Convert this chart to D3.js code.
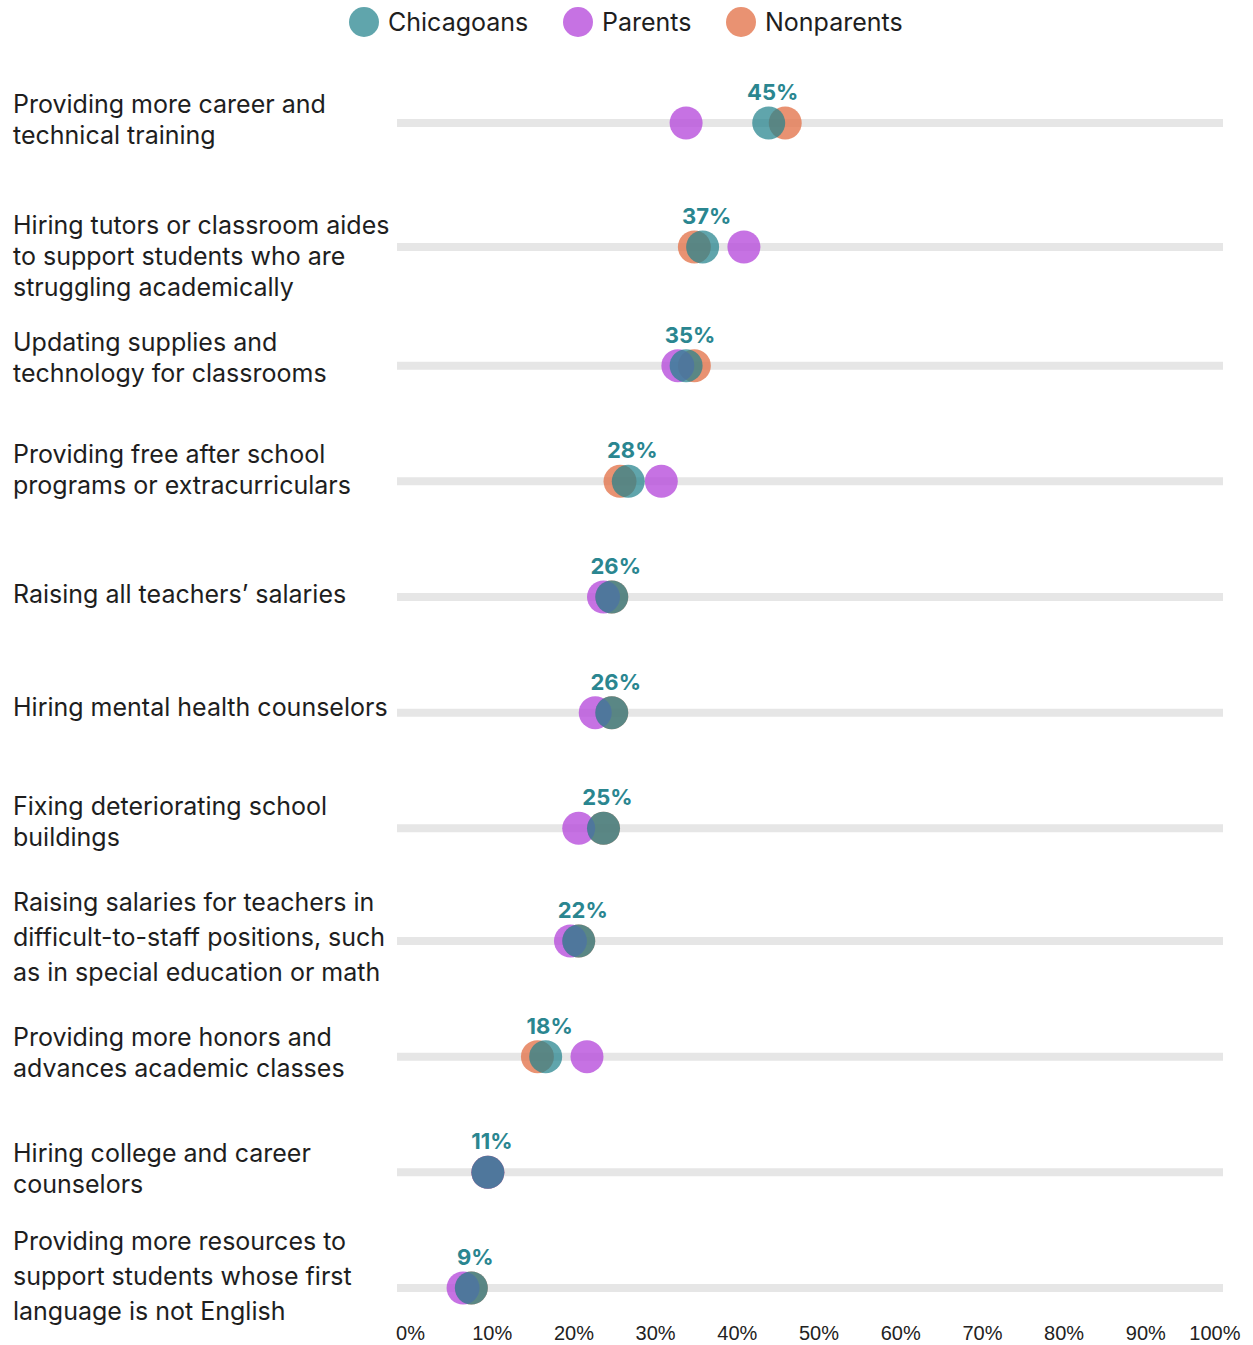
<!DOCTYPE html>
<html>
<head>
<meta charset="utf-8">
<script src="https://cdn.jsdelivr.net/npm/d3@7"></script>
<style>
  html, body { margin: 0; padding: 0; background: #ffffff; }
  svg { display: block; }
</style>
</head>
<body>
<svg id="chart" width="1253" height="1345"></svg>
<script>
// Survey items (each entry is one label, split into its display lines)
const categories = [
  ["Providing more career and", "technical training"],
  ["Hiring tutors or classroom aides", "to support students who are", "struggling academically"],
  ["Updating supplies and", "technology for classrooms"],
  ["Providing free after school", "programs or extracurriculars"],
  ["Raising all teachers\u2019 salaries"],
  ["Hiring mental health counselors"],
  ["Fixing deteriorating school", "buildings"],
  ["Raising salaries for teachers in", "difficult-to-staff positions, such", "as in special education or math"],
  ["Providing more honors and", "advances academic classes"],
  ["Hiring college and career", "counselors"],
  ["Providing more resources to", "support students whose first", "language is not English"]
];

// Share of each group choosing the item (%)
const chicagoans = [45, 37, 35, 28, 26, 26, 25, 22, 18, 11, 9];
const parents    = [35, 42, 34, 32, 25, 24, 22, 21, 23, 11, 8];
const nonparents = [47, 36, 36, 27, 26, 26, 25, 22, 17, 11, 9];

const seriesNames = ["Chicagoans", "Parents", "Nonparents"];
const tickValues = [0, 10, 20, 30, 40, 50, 60, 70, 80, 90, 100];

// ---- styling ----
const colors = { Chicagoans: "#23828c", Parents: "#b84fdc", Nonparents: "#e4774f" };
const opacities = { Chicagoans: 0.72, Parents: 0.8, Nonparents: 0.8 };
const labelColor = "#2a8690";
const textFont = "Inter, 'Open Sans', sans-serif";

const svg = d3.select("#chart");

// value scale for the dots and tracks
const x = d3.scaleLinear().domain([0, 100]).range([397, 1223]);

// row positions: first row sits a little higher than the evenly spaced rest
const rowStep = d3.scaleLinear().domain([1, categories.length - 1]).range([247, 1288]);
const rowY = i => (i === 0 ? 123 : rowStep(i) + (i >= 2 && i <= 6 ? 3 : 0));

// small vertical nudges of the label blocks relative to their track
const labelShift = [0, 13, -4, -8, 1, -2, -3, 0, 0, 0, -8];

// ---- legend ----
const legendX = { Chicagoans: 364, Parents: 578, Nonparents: 741 };
const legend = svg.append("g").attr("class", "legend");
seriesNames.forEach(name => {
  const g = legend.append("g").attr("transform", `translate(${legendX[name]},22)`);
  g.append("circle").attr("r", 15)
    .attr("fill", colors[name]).attr("fill-opacity", opacities[name]);
  g.append("text").attr("x", 24).attr("dy", "0.35em")
    .attr("font-family", textFont).attr("font-size", 25)
    .attr("fill", "#1e1e1e").text(name);
});

// ---- rows ----
const looseRows = new Set([7, 10]);
const rows = svg.append("g").attr("class", "rows");

categories.forEach((lines, i) => {
  const y = rowY(i);
  const g = rows.append("g");

  // track
  g.append("line")
    .attr("x1", x(0)).attr("x2", x(100))
    .attr("y1", y).attr("y2", y)
    .attr("stroke", "#e6e6e6").attr("stroke-width", 8);

  // label block
  const lh = looseRows.has(i) ? 35 : 31;
  const blockTop = y - 4 + labelShift[i] - (lines.length - 1) * lh / 2;
  const t = g.append("text")
    .attr("font-family", textFont).attr("font-size", 25)
    .attr("fill", "#1e1e1e");
  lines.forEach((ln, k) => {
    t.append("tspan").attr("x", 13).attr("y", blockTop + k * lh)
      .attr("dy", "0.36em").text(ln);
  });

  // dots: nonparents, then parents, then chicagoans on top
  const values = { Nonparents: nonparents[i], Parents: parents[i], Chicagoans: chicagoans[i] };
  ["Nonparents", "Parents", "Chicagoans"].forEach(name => {
    g.append("circle")
      .attr("cx", x(values[name])).attr("cy", y).attr("r", 16.5)
      .attr("fill", colors[name]).attr("fill-opacity", opacities[name]);
  });

  // value label for Chicagoans
  g.append("text")
    .attr("x", x(chicagoans[i]) + 4).attr("y", y - 23)
    .attr("text-anchor", "middle")
    .attr("font-family", textFont).attr("font-size", 22).attr("font-weight", 700)
    .attr("fill", labelColor)
    .text(chicagoans[i] + "%");
});

// ---- bottom tick labels ----
const xTick = d3.scaleLinear().domain([0, 100]).range([410, 1227]);
const axis = svg.append("g")
  .attr("transform", "translate(0,1325)")
  .call(d3.axisBottom(xTick).tickValues(tickValues).tickSize(0).tickPadding(0)
    .tickFormat(d => d + "%"));
axis.select(".domain").remove();
axis.selectAll("text")
  .attr("font-family", "'Liberation Sans', Arial, sans-serif")
  .attr("font-size", 20).attr("fill", "#222")
  .attr("dy", "0.75em");
axis.selectAll(".tick").filter(d => d === 100).select("text")
  .attr("text-anchor", "end").attr("x", 13);
</script>
</body>
</html>
